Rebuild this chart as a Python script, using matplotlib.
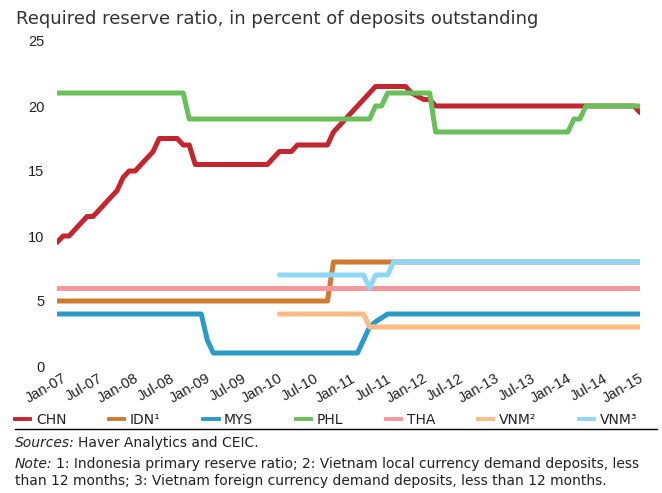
import matplotlib
matplotlib.use("Agg")
import matplotlib.pyplot as plt
import matplotlib.transforms as mtransforms
from matplotlib.lines import Line2D

# months counted from Jan-07 (0) to Feb-15 (97); points where the ratio changes
chn_m = [0, 1, 2, 3, 4, 5, 6, 7, 8, 9, 10, 11, 12, 13, 14, 15, 16, 17, 20, 21, 22, 23,
         35, 36, 37, 39, 40, 45, 46, 47, 48, 49, 50, 51, 52, 53, 58, 59, 60, 61, 62, 63, 96, 97]
chn_v = [9.5, 10, 10, 10.5, 11, 11.5, 11.5, 12, 12.5, 13, 13.5, 14.5, 15, 15, 15.5, 16, 16.5, 17.5, 17.5, 17, 17, 15.5,
         15.5, 16, 16.5, 16.5, 17, 17, 18, 18.5, 19, 19.5, 20, 20.5, 21, 21.5, 21.5, 21, 20.75, 20.5, 20.5, 20, 20, 19.5]
idn_m = [0, 45, 46, 97]
idn_v = [5, 5, 8, 8]
mys_m = [0, 24, 25, 26, 50, 51, 52, 53, 54, 55, 97]
mys_v = [4, 4, 2, 1, 1, 2, 3, 3.4, 3.7, 4, 4]
phl_m = [0, 21, 22, 52, 53, 54, 55, 62, 63, 85, 86, 87, 88, 97]
phl_v = [21, 21, 19, 19, 20, 20, 21, 21, 18, 18, 19, 19, 20, 20]
tha_m = [0, 97]
tha_v = [6, 6]
vnm2_m = [37, 51, 52, 97]
vnm2_v = [4, 4, 3, 3]
vnm3_m = [37, 51, 52, 53, 55, 56, 97]
vnm3_v = [7, 7, 6, 7, 7, 8, 8]

tick_pos = list(range(0, 97, 6))
tick_labels = ["Jan-07", "Jul-07", "Jan-08", "Jul-08", "Jan-09", "Jul-09", "Jan-10", "Jul-10", "Jan-11",
               "Jul-11", "Jan-12", "Jul-12", "Jan-13", "Jul-13", "Jan-14", "Jul-14", "Jan-15"]

series = [
    ("CHN", chn_m, chn_v, "#c3262e"),
    ("IDN\u00b9", idn_m, idn_v, "#cf7b2f"),
    ("MYS", mys_m, mys_v, "#2c9ac7"),
    ("PHL", phl_m, phl_v, "#6bbf5b"),
    ("THA", tha_m, tha_v, "#f4989e"),
    ("VNM\u00b2", vnm2_m, vnm2_v, "#fdbc86"),
    ("VNM\u00b3", vnm3_m, vnm3_v, "#8fd7f6"),
]

narrow = ["Liberation Sans", "DejaVu Sans"]
plt.rcParams["font.family"] = narrow
txt_col = "#222222"
fs_note = 10

fig = plt.figure(figsize=(6.62, 4.93), dpi=100)
ax = fig.add_axes([57 / 662, 127 / 493, 583 / 662, 325 / 493])

for name, m, v, c in series:
    ax.plot(m, v, color=c, lw=3.6, label=name, solid_capstyle="round", solid_joinstyle="round")

ax.set_xlim(0, 97)
ax.set_ylim(0, 25)
ax.set_yticks([0, 5, 10, 15, 20, 25])
ax.set_xticks(tick_pos)
ax.set_xticklabels(tick_labels, rotation=30, ha="right", va="top", rotation_mode="anchor")
ax.tick_params(axis="both", length=0, labelsize=10.5, colors=txt_col)
ax.tick_params(axis="y", pad=9)
ax.tick_params(axis="x", pad=4)
for lab in ax.get_xticklabels():
    lab.set_transform(lab.get_transform() + mtransforms.ScaledTranslation(5 / 100, 0, fig.dpi_scale_trans))
for s in ax.spines.values():
    s.set_visible(False)

fig.text(16 / 662, 1 - 24 / 493, "Required reserve ratio, in percent of deposits outstanding",
         fontsize=13, color="#333333", family=["DejaVu Sans"], va="baseline")

handles = [Line2D([0], [0], color=c, lw=2.8) for _, _, _, c in series]
leg = fig.legend(handles, [s[0] for s in series], loc="lower left", ncol=7, mode="expand",
                 bbox_to_anchor=(15 / 662, 1 - 427 / 493, 622 / 662, 20 / 493), frameon=False,
                 handlelength=1.1, handletextpad=0.4, borderaxespad=0, borderpad=0,
                 prop={"size": fs_note, "family": ["DejaVu Sans"]})
for t in leg.get_texts():
    t.set_color(txt_col)

fig.add_artist(Line2D([15 / 662, 657 / 662], [1 - 429 / 493, 1 - 429 / 493], color="black", lw=1.0))

fig.canvas.draw()
r = fig.canvas.get_renderer()


def label_pair(y, first, rest):
    t = fig.text(15 / 662, y, first, style="italic", fontsize=fs_note, color=txt_col, va="baseline",
                 family=["DejaVu Sans"])
    w = t.get_window_extent(r).width
    fig.text(15 / 662 + (w + 3) / 662, y, rest, fontsize=fs_note, color=txt_col, va="baseline",
             family=["DejaVu Sans"])


label_pair(1 - 447 / 493, "Sources:", "Haver Analytics and CEIC.")
label_pair(1 - 468 / 493, "Note:",
           "1: Indonesia primary reserve ratio; 2: Vietnam local currency demand deposits, less")
fig.text(15 / 662, 1 - 485 / 493, "than 12 months; 3: Vietnam foreign currency demand deposits, less than 12 months.",
         fontsize=fs_note, color=txt_col, va="baseline", family=["DejaVu Sans"])

fig.savefig("out.png", dpi=100)
